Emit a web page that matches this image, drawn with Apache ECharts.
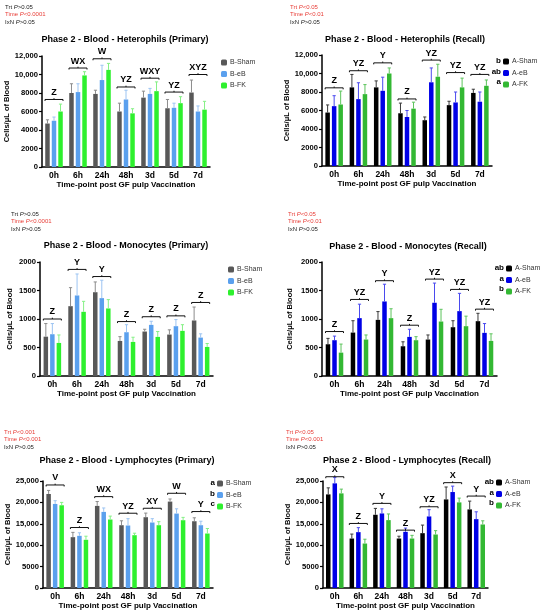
<!DOCTYPE html>
<html>
<head>
<meta charset="utf-8">
<script src="https://cdn.jsdelivr.net/npm/echarts@6/dist/echarts.min.js"></script>
<style>
  html, body { margin: 0; padding: 0; background: #fff; }
  #main { width: 550px; height: 614px; }
</style>
</head>
<body>
<div id="main"></div>
<script>
// 时间点
const times = ['0h', '6h', '24h', '48h', '3d', '5d', '7d'];
const primaryNames = ['B-Sham', 'B-eB', 'B-FK'];
const recallNames = ['A-Sham', 'A-eB', 'A-FK'];

// Heterophils (Primary): Sham, eB, FK
const hetPriMean = [
  [4700, 8000, 7900, 6000, 7500, 6350, 8050],
  [5000, 8100, 9400, 7300, 7900, 6400, 6000],
  [6000, 9900, 10500, 5800, 8200, 6900, 6200]
];
const hetPriErr = [
  [400, 1000, 400, 900, 700, 950, 1350],
  [400, 900, 1600, 1000, 600, 500, 600],
  [800, 400, 700, 500, 1000, 700, 900]
];
const hetPriBracket = [7300, 10700, 11700, 8650, 9600, 8100, 10000];
const hetPriLetters = ['Z', 'WX', 'W', 'YZ', 'WXY', 'YZ', 'XYZ'];

// Heterophils (Recall)
const hetRecMean = [
  [5780, 8500, 8500, 5700, 4950, 6580, 7900],
  [6470, 7230, 8130, 5300, 9050, 6870, 6950],
  [6650, 7770, 10000, 6200, 9650, 8500, 8670]
];
const hetRecErr = [
  [820, 1400, 700, 1100, 350, 420, 400],
  [1130, 1770, 1470, 700, 1550, 1130, 1050],
  [1450, 1030, 600, 700, 1350, 1000, 630]
];
const hetRecBracket = [8450, 10300, 11150, 7250, 11450, 10100, 9900];
const hetRecLetters = ['Z', 'YZ', 'Y', 'Z', 'YZ', 'YZ', 'YZ'];

// Monocytes (Primary)
const monoPriMean = [
  [690, 1225, 1470, 615, 780, 727, 974],
  [733, 1413, 1366, 768, 897, 874, 674],
  [580, 1126, 1185, 598, 686, 792, 510]
];
const monoPriErr = [
  [230, 325, 180, 75, 40, 83, 236],
  [187, 377, 314, 132, 63, 116, 66],
  [140, 184, 155, 82, 94, 108, 60]
];
const monoPriBracket = [1000, 1870, 1745, 955, 1040, 1055, 1290];
const monoPriLetters = ['Z', 'Y', 'Y', 'Z', 'Z', 'Z', 'Z'];

// Monocytes (Recall)
const monoRecMean = [
  [557, 762, 985, 522, 640, 856, 962],
  [628, 1015, 1308, 686, 1285, 1138, 757],
  [410, 640, 1015, 628, 956, 874, 616]
];
const monoRecErr = [
  [103, 208, 145, 78, 80, 114, 138],
  [72, 245, 302, 134, 345, 312, 163],
  [150, 80, 165, 62, 214, 176, 124]
];
const monoRecBracket = [780, 1343, 1672, 891, 1700, 1519, 1173];
const monoRecLetters = ['Z', 'YZ', 'Y', 'Z', 'YZ', 'YZ', 'YZ'];

// Lymphocytes (Primary)
const lymPriMean = [
  [21970, 11880, 19180, 14670, 16540, 20190, 15600],
  [19640, 12190, 17780, 14600, 15300, 17390, 14670],
  [19330, 11260, 16000, 12340, 14670, 15840, 12730]
];
const lymPriErr = [
  [830, 1120, 1020, 1030, 960, 610, 800],
  [760, 710, 920, 1600, 900, 1110, 930],
  [670, 840, 800, 460, 830, 660, 1170]
];
const lymPriBracket = [24070, 14130, 21350, 17470, 18630, 22130, 17860];
const lymPriLetters = ['V', 'Z', 'WX', 'YZ', 'XY', 'W', 'Y'];

// Lymphocytes (Recall)
const lymRecMean = [
  [21870, 11560, 17110, 11560, 12810, 20700, 18360],
  [24450, 13050, 17420, 13120, 16720, 22420, 16090],
  [22110, 10390, 15860, 11560, 12500, 20000, 14840]
];
const lymRecErr = [
  [1530, 1040, 1490, 540, 1890, 2900, 1940],
  [1350, 1050, 1080, 880, 1580, 1380, 1710],
  [990, 1010, 1440, 740, 900, 1000, 860]
];
const lymRecBracket = [26000, 15080, 19770, 13520, 18980, 24610, 21480];
const lymRecLetters = ['X', 'Z', 'Y', 'Z', 'YZ', 'X', 'Y'];

const FONT = '"Liberation Sans", Arial, sans-serif';
const RED = '#e8403a';
const priColors = ['#585858', '#5aa0ee', '#2ef02e'];
const priErrColors = ['#8c8c8c', '#9cc4f2', '#86f086'];
const recColors = ['#000000', '#0000e6', '#33b833'];
const recErrColors = ['#3a3a3a', '#4a4aee', '#5cc45c'];

const BW = 4.5;          // 柱宽
const STEP = BW * 1.45;  // 柱中心间距

const panels = [
  { title: 'Phase 2 - Blood - Heterophils (Primary)', mean: hetPriMean, err: hetPriErr, br: hetPriBracket, letters: hetPriLetters,
    names: primaryNames, colors: priColors, errColors: priErrColors, grid: { left: 42, top: 56, width: 168, height: 111 },
    max: 12000, interval: 2000, titleAt: [125, 40], statsAt: [5, 7],
    stats: [['Trt', '>0.05', '#222'], ['Time', '<0.0001', RED], ['IxN', '>0.05', '#222']],
    legendAt: [221, 59], legendLetters: null, nameGap: 27 },
  { title: 'Phase 2 - Blood - Heterophils (Recall)', mean: hetRecMean, err: hetRecErr, br: hetRecBracket, letters: hetRecLetters,
    names: recallNames, colors: recColors, errColors: recErrColors, grid: { left: 322, top: 55, width: 170, height: 111 },
    max: 12000, interval: 2000, titleAt: [405, 40], statsAt: [290, 7],
    stats: [['Trt', '<0.05', RED], ['Time', '<0.01', RED], ['IxN', '>0.05', '#222']],
    legendAt: [503, 58], legendLetters: ['b', 'ab', 'a'], nameGap: 28 },
  { title: 'Phase 2 - Blood - Monocytes (Primary)', mean: monoPriMean, err: monoPriErr, br: monoPriBracket, letters: monoPriLetters,
    names: primaryNames, colors: priColors, errColors: priErrColors, grid: { left: 40, top: 262, width: 173, height: 114 },
    max: 2000, interval: 500, titleAt: [126, 246], statsAt: [11, 214],
    stats: [['Trt', '>0.05', '#222'], ['Time', '<0.0001', RED], ['IxN', '>0.05', '#222']],
    legendAt: [228, 266], legendLetters: null, nameGap: 26 },
  { title: 'Phase 2 - Blood - Monocytes (Recall)', mean: monoRecMean, err: monoRecErr, br: monoRecBracket, letters: monoRecLetters,
    names: recallNames, colors: recColors, errColors: recErrColors, grid: { left: 322, top: 262, width: 175, height: 114 },
    max: 2000, interval: 500, titleAt: [408, 247], statsAt: [288, 214],
    stats: [['Trt', '<0.05', RED], ['Time', '<0.01', RED], ['IxN', '>0.05', '#222']],
    legendAt: [506, 265], legendLetters: ['ab', 'a', 'b'], nameGap: 28 },
  { title: 'Phase 2 - Blood - Lymphocytes (Primary)', mean: lymPriMean, err: lymPriErr, br: lymPriBracket, letters: lymPriLetters,
    names: primaryNames, colors: priColors, errColors: priErrColors, grid: { left: 43, top: 481, width: 170, height: 107 },
    max: 25000, interval: 5000, titleAt: [127, 461], statsAt: [4, 432],
    stats: [['Trt', '<0.001', RED], ['Time', '<0.001', RED], ['IxN', '>0.05', '#222']],
    legendAt: [217, 480], legendLetters: ['a', 'b', 'c'], nameGap: 27 },
  { title: 'Phase 2 - Blood - Lymphocytes (Recall)', mean: lymRecMean, err: lymRecErr, br: lymRecBracket, letters: lymRecLetters,
    names: recallNames, colors: recColors, errColors: recErrColors, grid: { left: 323, top: 481, width: 165, height: 107 },
    max: 25000, interval: 5000, titleAt: [407, 461], statsAt: [286, 432],
    stats: [['Trt', '<0.05', RED], ['Time', '<0.001', RED], ['IxN', '>0.05', '#222']],
    legendAt: [496, 479], legendLetters: ['ab', 'a', 'b'], nameGap: 28 }
];

const fmt = v => v >= 10000 ? v.toLocaleString('en-US') : String(v);

const grids = [], xAxes = [], yAxes = [], series = [], legends = [], graphics = [];

panels.forEach((p, pi) => {
  grids.push(p.grid);
  xAxes.push({
    type: 'category', gridIndex: pi, data: times,
    axisLine: { lineStyle: { color: '#000', width: 1.5 } },
    axisTick: { show: false },
    axisLabel: { color: '#000', fontWeight: 'bold', fontSize: 8.5, fontFamily: FONT, margin: 4 },
    name: 'Time-point post GF pulp Vaccination', nameLocation: 'middle', nameGap: 14,
    nameTextStyle: { color: '#000', fontWeight: 'bold', fontSize: 8, fontFamily: FONT }
  });
  yAxes.push({
    type: 'value', gridIndex: pi, min: 0, max: p.max, interval: p.interval,
    splitLine: { show: false },
    axisLine: { show: true, lineStyle: { color: '#000', width: 1.5 } },
    axisTick: { show: true, length: 3, lineStyle: { color: '#000', width: 1.2 } },
    axisLabel: { color: '#000', fontWeight: 'bold', fontSize: 7.6, fontFamily: FONT, margin: 4, formatter: fmt },
    name: 'Cells/μL of Blood', nameLocation: 'middle', nameGap: p.nameGap,
    nameTextStyle: { color: '#000', fontWeight: 'bold', fontSize: 7.5, fontFamily: FONT }
  });
  p.names.forEach((n, k) => {
    series.push({
      name: n, type: 'bar', xAxisIndex: pi, yAxisIndex: pi,
      barWidth: BW, barGap: '45%',
      itemStyle: { color: p.colors[k] },
      data: p.mean[k]
    });
  });
  // 误差线、括号与字母
  series.push({
    type: 'custom', xAxisIndex: pi, yAxisIndex: pi, clip: false, z: 5,
    data: times.map((t, i) => [i, 0]),
    encode: { x: 0, y: 1 },
    renderItem: function (params, api) {
      const i = api.value(0);
      const cx = api.coord([i, 0])[0];
      const children = [];
      for (let k = 0; k < 3; k++) {
        const x = cx + (k - 1) * STEP;
        const y0 = api.coord([i, p.mean[k][i]])[1];
        const y1 = api.coord([i, p.mean[k][i] + p.err[k][i]])[1];
        const st = { stroke: p.errColors[k], lineWidth: 1 };
        children.push({ type: 'line', shape: { x1: x, y1: y0, x2: x, y2: y1 }, style: st });
        children.push({ type: 'line', shape: { x1: x - 1.6, y1: y1, x2: x + 1.6, y2: y1 }, style: st });
      }
      const yb = api.coord([i, p.br[i]])[1];
      const hw = 9;
      children.push({ type: 'polyline', shape: { points: [[cx - hw, yb + 1.5], [cx - hw, yb], [cx + hw, yb], [cx + hw, yb + 1.5]] },
        style: { stroke: '#111', lineWidth: 1, fill: null } });
      children.push({ type: 'line', shape: { x1: cx, y1: yb, x2: cx, y2: yb - 1.3 }, style: { stroke: '#111', lineWidth: 1 } });
      children.push({ type: 'text', x: cx, y: yb - 7,
        style: { text: p.letters[i], textAlign: 'center', textVerticalAlign: 'middle', font: 'bold 9px ' + FONT, fill: '#000' } });
      return { type: 'group', children: children };
    }
  });
  legends.push({
    data: p.names, left: p.legendAt[0], top: p.legendAt[1], orient: 'vertical',
    itemWidth: 6, itemHeight: 6, itemGap: 4.5, selectedMode: false, padding: 0,
    textStyle: { fontSize: 7, fontFamily: FONT, color: '#333', padding: [0, 0, 0, -2] }
  });
  if (p.legendLetters) {
    p.legendLetters.forEach((l, k) => {
      graphics.push({ type: 'text', x: p.legendAt[0] - 2, y: p.legendAt[1] + 3 + k * 10.5,
        style: { text: l, textAlign: 'right', textVerticalAlign: 'middle', font: 'bold 8px ' + FONT, fill: '#000' } });
    });
  }
  graphics.push({ type: 'text', x: p.titleAt[0], y: p.titleAt[1],
    style: { text: p.title, textAlign: 'center', textVerticalAlign: 'middle', font: 'bold 9px ' + FONT, fill: '#000' } });
  p.stats.forEach((s, k) => {
    graphics.push({ type: 'text', x: p.statsAt[0], y: p.statsAt[1] + k * 7.8,
      style: {
        text: s[0] + ' {i|P}' + s[1], textVerticalAlign: 'middle', fill: s[2], font: '6px ' + FONT,
        rich: { i: { fontStyle: 'italic', fontSize: 6, fontFamily: FONT, fill: s[2] } }
      } });
  });
});

const myChart = echarts.init(document.getElementById('main'), null, { renderer: 'canvas' });
myChart.setOption({
  backgroundColor: '#fff',
  animation: false,
  grid: grids,
  xAxis: xAxes,
  yAxis: yAxes,
  legend: legends,
  series: series,
  graphic: graphics
});
</script>
</body>
</html>
